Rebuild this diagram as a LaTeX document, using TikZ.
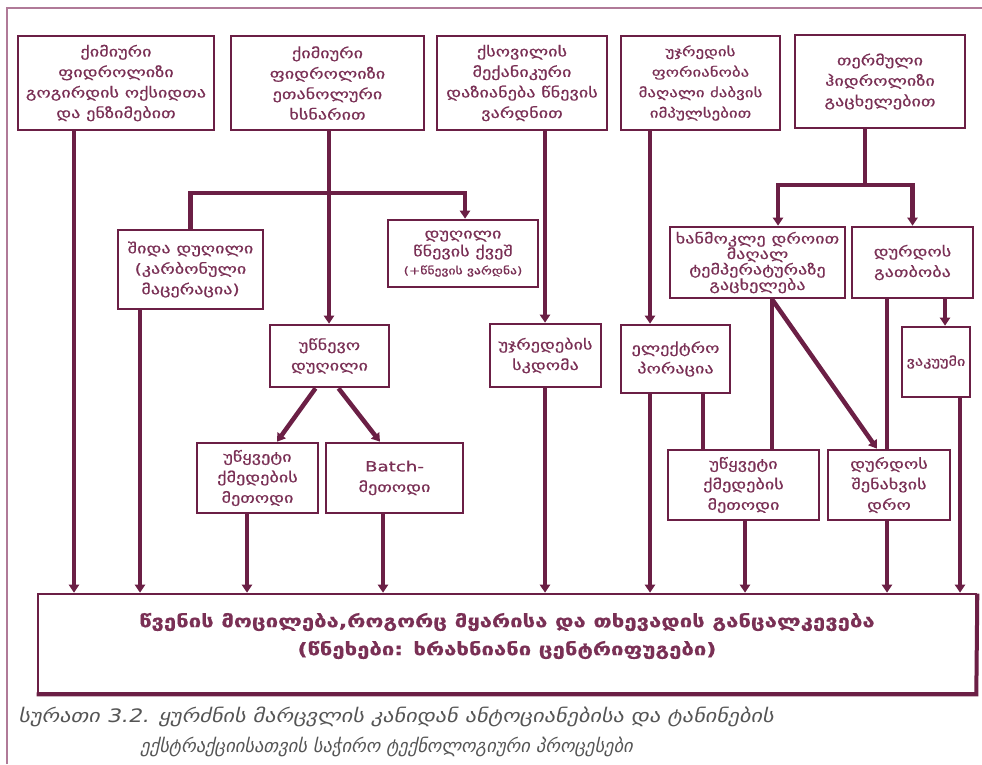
\documentclass[tikz,border=0pt]{standalone}
\usepackage{fontspec}
\setmainfont{DejaVu Sans}
\newfontfamily\boxfont[FakeStretch=1.3,FakeBold=0.6]{DejaVu Sans}
\newfontfamily\capfont[FakeSlant=0.22,FakeStretch=1.2]{DejaVu Sans}
\newfontfamily\capfontnarrow[FakeSlant=0.22,FakeStretch=1.0]{DejaVu Sans}
\usetikzlibrary{arrows.meta}
\definecolor{wine}{HTML}{6B1F45}
\definecolor{winetext}{HTML}{7A3055}
\definecolor{framec}{HTML}{B07A98}
\definecolor{capgray}{HTML}{555555}

\begin{document}
\begin{tikzpicture}[x=1pt,y=-1pt,
  stepbox/.style={draw=wine, line width=2.6pt, fill=white, text=winetext,
    align=center, inner sep=0pt, font=\boxfont\fontsize{14}{20.5}\selectfont},
  flow/.style={draw=wine, line width=4.5pt},
  arr/.style={flow, -{Triangle[length=8pt,width=10pt]}},
  captext/.style={anchor=base west, text=capgray, inner sep=0pt},
]
\useasboundingbox (0,0) rectangle (982,764);

% page frame
\draw[framec, line width=1.5pt] (7,764) -- (7,8) -- (982,8);

% top row of methods
\node[stepbox, minimum width=196pt, minimum height=94pt] (b1) at (116,83)
  {ქიმიური\\ფიდროლიზი\\გოგირდის ოქსიდთა\\და ენზიმებით};
\node[stepbox, minimum width=193pt, minimum height=94pt] (b2) at (327.5,83)
  {ქიმიური\\ფიდროლიზი\\ეთანოლური\\ხსნარით};
\node[stepbox, minimum width=170pt, minimum height=94pt] (b3) at (522,83)
  {ქსოვილის\\მექანიკური\\დაზიანება წნევის\\ვარდნით};
\node[stepbox, minimum width=159pt, minimum height=94pt, font=\boxfont\fontsize{13}{20.5}\selectfont] (b4) at (700.5,83)
  {უჯრედის\\ფორიანობა\\მაღალი ძაბვის\\იმპულსებით};
\node[stepbox, minimum width=170pt, minimum height=93pt] (b5) at (880,81.5)
  {თერმული\\ჰიდროლიზი\\გაცხელებით};

% intermediate steps
\node[stepbox, minimum width=145pt, minimum height=79pt] (b6) at (190.5,269.5)
  {შიდა დუღილი\\(კარბონული\\მაცერაცია)};
\node[stepbox, minimum width=150pt, minimum height=67pt, font=\boxfont\fontsize{14}{18}\selectfont] (b7) at (463,253.5)
  {დუღილი\\წნევის ქვეშ\\{\fontsize{10.5}{12}\selectfont (+წნევის ვარდნა)}};
\node[stepbox, minimum width=119pt, minimum height=62pt] (b8) at (329.5,356)
  {უწნევო\\დუღილი};
\node[stepbox, minimum width=121pt, minimum height=70pt] (b9) at (257.5,478)
  {უწყვეტი\\ქმედების\\მეთოდი};
\node[stepbox, minimum width=137pt, minimum height=70pt] (b10) at (394.5,478)
  {Batch-\\მეთოდი};
\node[stepbox, minimum width=111pt, minimum height=63pt] (b11) at (545.5,355.5)
  {უჯრედების\\სკდომა};
\node[stepbox, minimum width=109pt, minimum height=68pt] (b12) at (675.5,359)
  {ელექტრო\\პორაცია};
\node[stepbox, minimum width=175pt, minimum height=71pt, font=\boxfont\fontsize{14}{15.5}\selectfont] (b13) at (757.5,262.5)
  {ხანმოკლე დროით\\მაღალ\\ტემპერატურაზე\\გაცხელება};
\node[stepbox, minimum width=121pt, minimum height=71pt] (b14) at (912.5,262.5)
  {დურდოს\\გათბობა};
\node[stepbox, minimum width=68pt, minimum height=70pt, font=\boxfont\fontsize{12.5}{20}\selectfont] (b15) at (936,362)
  {ვაკუუმი};
\node[stepbox, minimum width=151pt, minimum height=70pt] (b16) at (743.5,485)
  {უწყვეტი\\ქმედების\\მეთოდი};
\node[stepbox, minimum width=122pt, minimum height=70pt] (b17) at (889,485)
  {დურდოს\\შენახვის\\დრო};

% common final step
\node[stepbox, minimum width=938pt, minimum height=99pt] (bot) at (507,643.5) {};
\draw[wine, line width=4pt] ([yshift=-1pt]bot.north east) -- ([xshift=-1pt]bot.south east) -- (bot.south west);
\node[align=center, text=winetext, inner sep=0pt, font=\boxfont\bfseries\fontsize{17}{28}\selectfont] (bottxt) at (507,636)
  {წვენის მოცილება,როგორც მყარისა და თხევადის განცალკევება\\(წნეხები: ხრახნიანი ცენტრიფუგები)};

% anchor points of the connectors
\coordinate (t1) at ([xshift=-42pt]b1.south);
\coordinate (t2) at ([xshift=1.5pt]b2.south);
\coordinate (j2) at (t2 |- 0,193);
\coordinate (t3) at ([xshift=23pt]b3.south);
\coordinate (t4) at ([xshift=-50.5pt]b4.south);
\coordinate (t5) at ([xshift=-15pt]b5.south);
\coordinate (j5) at (t5 |- 0,185);
\coordinate (o6) at ([xshift=-50.5pt]b6.south);
\coordinate (i7) at ([xshift=2pt]b7.north);
\coordinate (o9) at ([xshift=-10.5pt]b9.south);
\coordinate (o10) at ([xshift=-11.5pt]b10.south);
\coordinate (o12) at ([xshift=27.5pt]b12.south);
\coordinate (i13) at ([xshift=20.5pt]b13.north);
\coordinate (d13) at ([xshift=14.5pt]b13.south);
\coordinate (a14) at ([xshift=-25.5pt]b14.south);
\coordinate (c14) at ([xshift=32.5pt]b14.south);
\coordinate (o15) at ([xshift=24pt]b15.south);
\coordinate (o16) at ([xshift=1.5pt]b16.south);
\coordinate (i17) at ([xshift=-12pt]b17.north);

% chemical hydrolysis with ethanol branches
\draw[flow] (t2) -- (j2);
\draw[flow] (j2) -| (b6.north);
\draw[arr] (j2) -| (i7);
\draw[arr] (j2) -- (j2 |- b8.north);
\draw[arr] ([xshift=-14pt]b8.south) -- ([xshift=19.5pt]b9.north);
\draw[arr] ([xshift=9pt]b8.south) -- ([xshift=-14.5pt]b10.north);

% mechanical and electrical routes
\draw[arr] (t3) -- (t3 |- b11.north);
\draw[arr] (t4) -- (t4 |- b12.north);
\draw[flow] (o12) -- (o12 |- b16.north);

% thermal hydrolysis branches
\draw[flow] (t5) -- (j5);
\draw[arr] (j5) -| (i13);
\draw[arr] (j5) -| (b14.north);
\draw[arr] (c14) -- (c14 |- b15.north);
\draw[flow] (a14) -- (a14 |- b17.north);
\draw[flow] (d13) -- (d13 |- b16.north);
\draw[arr] (d13) -- (i17);

% everything flows into juice removal
\draw[arr] (t1) -- (t1 |- bot.north);
\draw[arr] (o6) -- (o6 |- bot.north);
\draw[arr] (o9) -- (o9 |- bot.north);
\draw[arr] (o10) -- (o10 |- bot.north);
\draw[arr] (t3 |- b11.south) -- (t3 |- bot.north);
\draw[arr] (t4 |- b12.south) -- (t4 |- bot.north);
\draw[arr] (o16) -- (o16 |- bot.north);
\draw[arr] (a14 |- b17.south) -- (a14 |- bot.north);
\draw[arr] (o15) -- (o15 |- bot.north);

% caption
\node[captext, font=\capfont\fontsize{18.5}{20}\selectfont] (cap1) at (18,722)
  {სურათი 3.2. ყურძნის მარცვლის კანიდან ანტოციანებისა და ტანინების};
\node[captext, font=\capfontnarrow\fontsize{18.5}{20}\selectfont] (cap2) at (140,752)
  {ექსტრაქციისათვის საჭირო ტექნოლოგიური პროცესები};
\end{tikzpicture}
\end{document}
